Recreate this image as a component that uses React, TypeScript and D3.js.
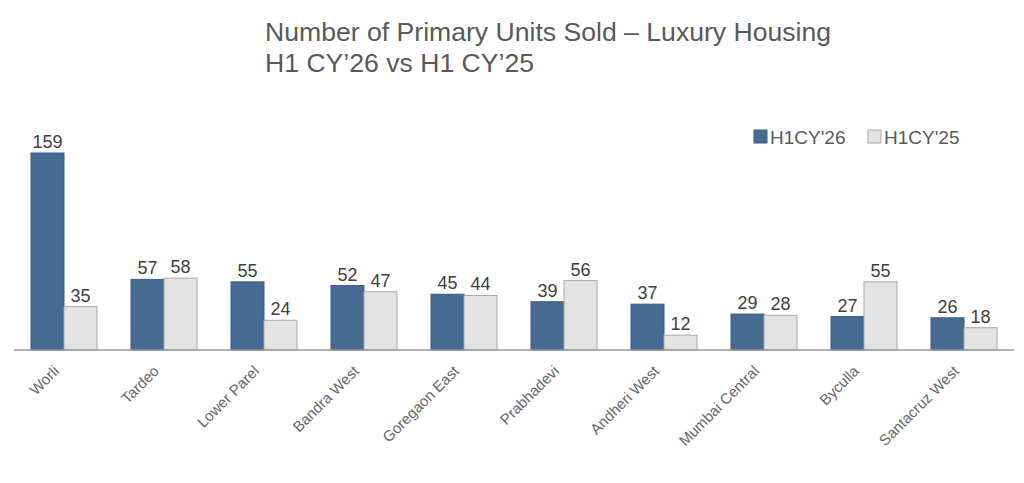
import * as d3 from 'd3';

const categories = ['Worli', 'Tardeo', 'Lower Parel', 'Bandra West', 'Goregaon East', 'Prabhadevi', 'Andheri West', 'Mumbai Central', 'Byculla', 'Santacruz West'];
const h1cy26 = [159, 57, 55, 52, 45, 39, 37, 29, 27, 26];
const h1cy25 = [35, 58, 24, 47, 44, 56, 12, 28, 55, 18];
const seriesNames = ["H1CY'26", "H1CY'25"];
const colors = ['#456b93', '#e3e3e3'];
const strokes = ['#3d5f85', '#a8a8a8'];

const W = 1024;
const H = 483;
const left = 14;
const right = 1014;
const baseY = 350;
const topY = 153;

export default function App() {
  const x0 = d3.scaleBand().domain(categories).range([left, right]).paddingInner(0.34).paddingOuter(0.17);
  const x1 = d3.scaleBand().domain(seriesNames).range([0, x0.bandwidth()]);
  const y = d3.scaleLinear().domain([0, 159]).range([baseY, topY]);
  const series = [h1cy26, h1cy25];
  const font = 'Arial, "Liberation Sans", sans-serif';

  return (
    <svg width={W} height={H} style={{ position: 'absolute', left: 0, top: 0, background: '#fff' }} fontFamily={font}>
      <text x={265} y={41} fontSize={26.6} fill="#595959">Number of Primary Units Sold – Luxury Housing</text>
      <text x={265} y={72} fontSize={26.6} fill="#595959">H1 CY’26 vs H1 CY’25</text>

      {seriesNames.map((s, i) => (
        <g key={s} transform={`translate(${i === 0 ? 754 : 868},130)`}>
          <rect width={13} height={13} fill={colors[i]} stroke={strokes[i]} />
          <text x={16} y={14} fontSize={19} fill="#595959">{s}</text>
        </g>
      ))}

      {categories.map((c, ci) => (
        <g key={c} transform={`translate(${x0(c)},0)`}>
          {series.map((vals, si) => {
            const bx = x1(seriesNames[si])!;
            const v = vals[ci];
            return (
              <g key={si}>
                <rect x={bx} y={y(v)} width={x1.bandwidth()} height={baseY - y(v)} fill={colors[si]} stroke={strokes[si]} strokeWidth={1} />
                <text x={bx + x1.bandwidth() / 2} y={y(v) - 5} textAnchor="middle" fontSize={18} fill="#404040">{v}</text>
              </g>
            );
          })}
          <text
            transform={`translate(${x0.bandwidth() / 2 - 4},${baseY + 22}) rotate(-45)`}
            textAnchor="end"
            fontSize={15}
            fill="#666"
          >{c}</text>
        </g>
      ))}

      <line x1={left} x2={right} y1={baseY} y2={baseY} stroke="#999" strokeWidth={1.5} />
    </svg>
  );
}
